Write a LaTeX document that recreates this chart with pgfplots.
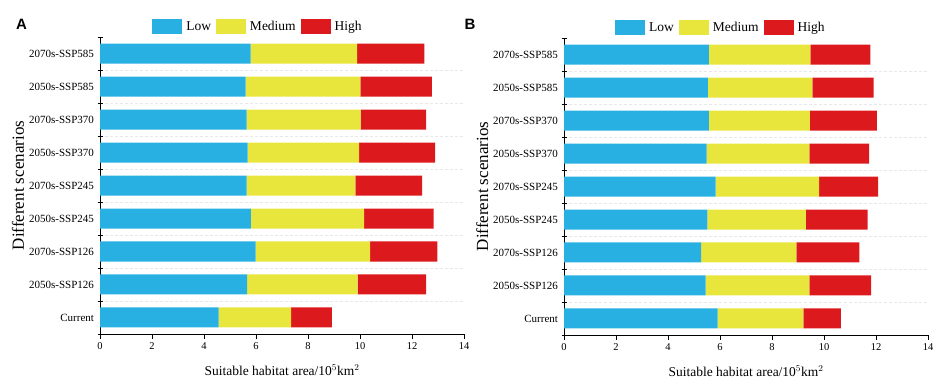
\documentclass[border=0pt]{standalone}
\usepackage{fontspec}
\setmainfont{Liberation Serif}
\newfontfamily\panelfont{Liberation Sans}
\usepackage{pgfplots}
\pgfplotsset{compat=1.18}
\usepackage{pgfplotstable}
\definecolor{cLow}{RGB}{41,176,226}
\definecolor{cMed}{RGB}{232,229,61}
\definecolor{cHigh}{RGB}{220,26,30}

% y: 0 = Current ... 8 = 2070s-SSP585 ; low, medium, high are segment lengths
\pgfplotstableread{
y low med high
0 4.56 2.79 1.57
1 5.66 4.25 2.63
2 5.99 4.40 2.59
3 5.80 4.36 2.67
4 5.64 4.18 2.57
5 5.68 4.29 2.92
6 5.64 4.38 2.52
7 5.60 4.41 2.75
8 5.79 4.10 2.59
}\dataA
\pgfplotstableread{
y low med high
0 5.91 3.30 1.44
1 5.45 3.99 2.37
2 5.27 3.67 2.42
3 5.51 3.79 2.38
4 5.83 3.98 2.27
5 5.49 3.95 2.30
6 5.57 3.89 2.57
7 5.53 4.02 2.36
8 5.57 3.91 2.30
}\dataB

\pgfplotsset{
  legbox/.style={legend image code/.code={\fill[##1] (0pt,-7.5pt) rectangle (30pt,7.5pt);}},
  myaxis/.style={
    scale only axis, width=364pt, height=297pt,
    xbar stacked, bar width=20pt,
    xmin=0, xmax=14, ymin=-0.5, ymax=8.5,
    enlarge y limits=false,
    axis x line*=bottom, axis y line*=left,
    axis line style={black, line width=0.8pt},
    xtick={0,2,...,14},
    ytick={-0.5,0.5,1.5,2.5,3.5,4.5,5.5,6.5,7.5,8.5},
    yticklabels={Current,2050s-SSP126,2070s-SSP126,2050s-SSP245,2070s-SSP245,2050s-SSP370,2070s-SSP370,2050s-SSP585,2070s-SSP585,{}},
    /pgf/number format/assume math mode=true,
    x tick label style={font=\fontsize{10.5}{12}\selectfont},
    y tick label style={font=\fontsize{11}{13}\selectfont, yshift=16.5pt},
    tick style={black, line width=0.8pt},
    major tick length=5pt,
    minor tick length=0pt,
    xtick align=outside, ytick align=center,
    minor ytick={0.5,1.5,...,7.5},
    yminorgrids=true,
    minor grid style={densely dashed, gray!18, line width=0.5pt},
    xlabel={Suitable habitat area/10$^5$km$^2$},
    xlabel style={font=\fontsize{13.5}{15}\selectfont, at={(axis description cs:0.5,-0.121)}, anchor=center},
    ylabel={Different scenarios},
    ylabel style={font=\fontsize{17}{19}\selectfont, at={(axis description cs:-0.225,0.5)}, anchor=center},
    legend columns=3,
    legend style={draw=none, fill=none, font=\fontsize{13.5}{15}\selectfont,
      inner sep=0pt, nodes={inner sep=0pt},
      /tikz/every odd column/.append style={column sep=4pt},
      /tikz/every even column/.append style={column sep=5pt}},
  }
}

\begin{document}
\begin{tikzpicture}
\path[use as bounding box] (0,0) rectangle (945pt,385pt);
\begin{axis}[myaxis, at={(100pt,51pt)}, anchor=south west,
  legend style={at={(rel axis cs:0.143,1.035)}, anchor=west}]
\addplot[fill=cLow, draw=none, legbox] table[x=low, y=y] {\dataA};
\addplot[fill=cMed, draw=none, legbox] table[x=med, y=y] {\dataA};
\addplot[fill=cHigh, draw=none, legbox] table[x=high, y=y] {\dataA};
\legend{Low, Medium, High}
\end{axis}
\begin{axis}[myaxis, at={(564pt,50pt)}, anchor=south west,
  legend style={at={(rel axis cs:0.140,1.035)}, anchor=west}]
\addplot[fill=cLow, draw=none, legbox] table[x=low, y=y] {\dataB};
\addplot[fill=cMed, draw=none, legbox] table[x=med, y=y] {\dataB};
\addplot[fill=cHigh, draw=none, legbox] table[x=high, y=y] {\dataB};
\legend{Low, Medium, High}
\end{axis}
\node[font=\panelfont\bfseries\fontsize{15}{17}\selectfont, anchor=center] at (21.5pt,361pt) {A};
\node[font=\panelfont\bfseries\fontsize{15}{17}\selectfont, anchor=center] at (470pt,361pt) {B};
\end{tikzpicture}
\end{document}
